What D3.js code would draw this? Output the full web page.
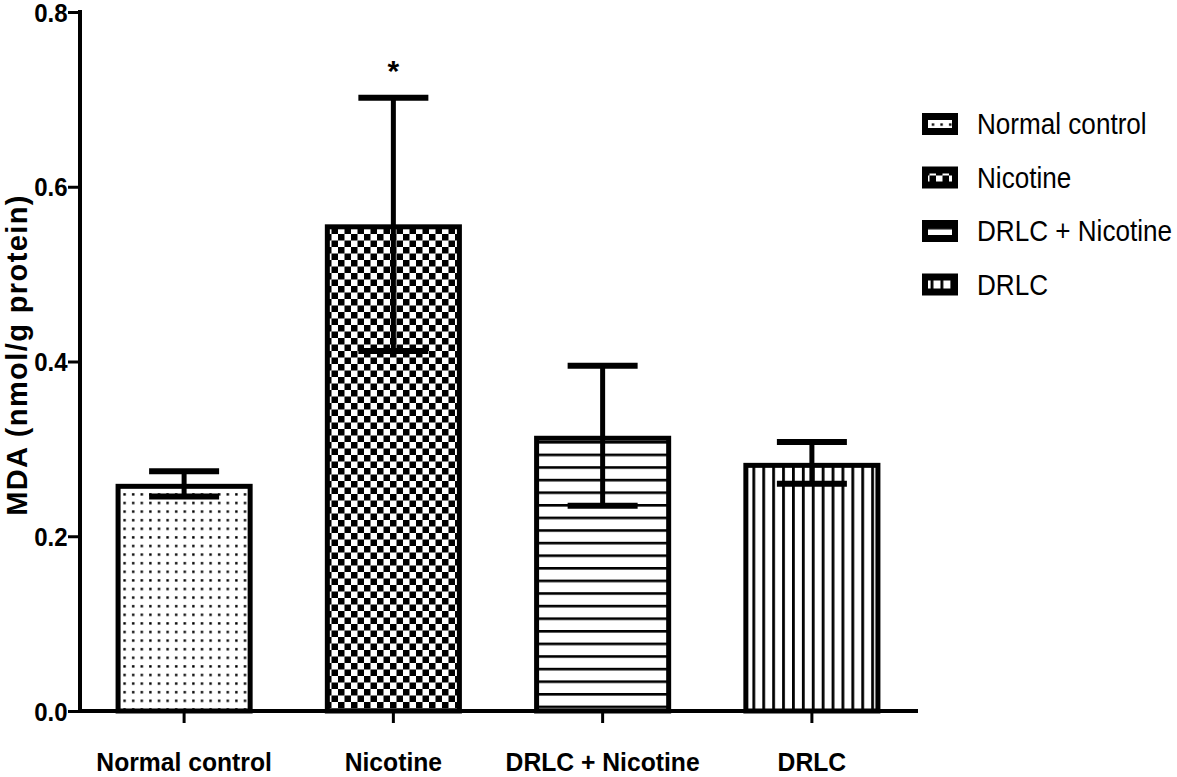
<!DOCTYPE html>
<html><head><meta charset="utf-8">
<script src="https://cdn.jsdelivr.net/npm/d3@7/dist/d3.min.js"></script>
<style>
body{margin:0;background:#fff;}
text{font-family:"Liberation Sans",Arial,sans-serif;}
</style></head>
<body><svg id="c" width="1177" height="777"></svg>
<script>
const categories = ["Normal control","Nicotine","DRLC + Nicotine","DRLC"];
const means = [0.260, 0.557, 0.315, 0.284];
const sem = [0.0145, 0.145, 0.080, 0.024];
const yTicks = [0.0, 0.2, 0.4, 0.6, 0.8];
const significance = ["", "*", "", ""];
const patterns = ["dots","checker","hlines","vlines"];

const svg = d3.select("#c");
const defs = svg.append("defs");
let p = defs.append("pattern").attr("id","dots").attr("patternUnits","userSpaceOnUse").attr("width",8.6).attr("height",8.6);
p.append("rect").attr("width",8.6).attr("height",8.6).attr("fill","#fff");
p.append("rect").attr("x",3).attr("y",3).attr("width",2.4).attr("height",2.4).attr("fill","#000");
p = defs.append("pattern").attr("id","checker").attr("patternUnits","userSpaceOnUse").attr("width",13).attr("height",13);
p.append("rect").attr("width",13).attr("height",13).attr("fill","#fff");
p.append("rect").attr("width",6.5).attr("height",6.5).attr("fill","#000");
p.append("rect").attr("x",6.5).attr("y",6.5).attr("width",6.5).attr("height",6.5).attr("fill","#000");
p = defs.append("pattern").attr("id","hlines").attr("patternUnits","userSpaceOnUse").attr("width",10).attr("height",12.6);
p.append("rect").attr("width",10).attr("height",12.6).attr("fill","#fff");
p.append("rect").attr("y",0).attr("width",10).attr("height",2.6).attr("fill","#000");
p = defs.append("pattern").attr("id","vlines").attr("patternUnits","userSpaceOnUse").attr("width",9.9).attr("height",10);
p.append("rect").attr("width",9.9).attr("height",10).attr("fill","#fff");
p.append("rect").attr("x",0).attr("width",2.8).attr("height",10).attr("fill","#000");

const x = d3.scaleBand().domain(categories).range([80, 916]).paddingInner(0.345).paddingOuter(0.17);
const y = d3.scaleLinear().domain([0,0.8]).range([711, 12]);

const bw = x.bandwidth();
const sw = 5;
svg.selectAll(".bar").data(categories).enter().append("rect")
  .attr("x", d=>x(d)+sw/2).attr("y", (d,i)=>y(means[i])+sw/2)
  .attr("width", bw-sw).attr("height",(d,i)=>y(0)-y(means[i])-sw/2)
  .attr("fill",(d,i)=>"url(#"+patterns[i]+")")
  .attr("stroke","#000").attr("stroke-width",sw);

const capW = 70;
categories.forEach((c,i)=>{
  const cx = x(c)+bw/2;
  const g = svg.append("g");
  g.append("line").attr("x1",cx).attr("x2",cx).attr("y1",y(means[i]+sem[i])).attr("y2",y(means[i]-sem[i]))
   .attr("stroke","#000").attr("stroke-width",5);
  [means[i]+sem[i], means[i]-sem[i]].forEach(v=>{
    g.append("line").attr("x1",cx-capW/2).attr("x2",cx+capW/2).attr("y1",y(v)).attr("y2",y(v))
     .attr("stroke","#000").attr("stroke-width",6);
  });
  if(significance[i]){
    svg.append("text").attr("x",cx).attr("y",y(means[i]+sem[i])-17).attr("text-anchor","middle")
      .attr("font-size",30).attr("font-weight","bold").text(significance[i]);
  }
});

const yAxis = d3.axisLeft(y).tickValues(yTicks).tickFormat(d3.format(".1f")).tickSize(12).tickPadding(1);
const ga = svg.append("g").attr("transform","translate(80,0)").call(yAxis);
ga.select(".domain").attr("stroke-width",4).attr("d","M0,10V711");
ga.selectAll(".tick line").attr("stroke-width",3);
ga.selectAll(".tick text").attr("font-size",25).attr("font-weight","bold").attr("fill","#000").attr("dy","0.36em")
  .attr("transform","scale(0.96,1)");

const xAxis = d3.axisBottom(x).tickSize(12).tickPadding(30);
const gx = svg.append("g").attr("transform","translate(0,711)").call(xAxis);
gx.select(".domain").attr("stroke-width",4).attr("d","M78,0H918");
gx.selectAll(".tick line").attr("stroke-width",3);
gx.selectAll(".tick text").attr("font-size",26).attr("font-weight","bold").attr("fill","#000")
  .attr("transform","scale(0.95,1)");

svg.append("text").attr("transform","translate(27,355) rotate(-90)").attr("text-anchor","middle")
  .attr("font-size",29).attr("font-weight","bold").attr("letter-spacing","1.4").text("MDA (nmol/g protein)");

const leg = svg.append("g");
categories.forEach((c,i)=>{
  const ly = 124 + i*53.5;
  leg.append("rect").attr("x",922).attr("y",ly-11).attr("width",36).attr("height",22).attr("fill","#000");
  leg.append("rect").attr("x",928).attr("y",ly-4).attr("width",24).attr("height",8)
    .attr("fill","url(#"+patterns[i]+")");
  leg.append("text").attr("transform","translate(977,"+ly+") scale(0.9,1)").attr("dy","0.36em")
    .attr("font-size",29).attr("fill","#000").text(c);
});
</script></body></html>
